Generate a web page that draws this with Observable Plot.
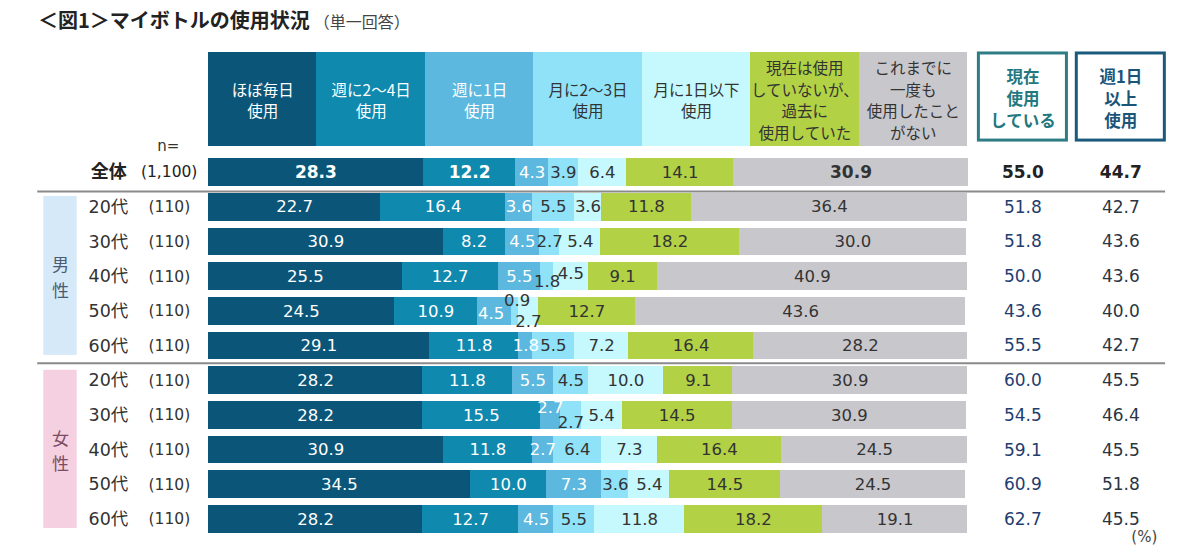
<!DOCTYPE html>
<html><head><meta charset="utf-8">
<script src="https://cdn.jsdelivr.net/npm/d3@7"></script>
<script src="https://cdn.jsdelivr.net/npm/@observablehq/plot@0.6"></script>
<style>
body{margin:0;background:#fff;font-family:"DejaVu Sans","Noto Sans CJK JP",sans-serif;}
#wrap{position:relative;width:1200px;height:558px;}
#title{position:absolute;left:38px;top:5px;z-index:2;color:#222;white-space:nowrap;}
#title .main{font-size:20px;font-weight:bold;font-family:"Noto Sans CJK JP",sans-serif;}
#title .sub{font-size:16px;font-family:"Noto Sans CJK JP",sans-serif;color:#444;margin-left:4px;}
</style></head>
<body><div id="wrap"><div id="title"><span class="main">＜図1＞マイボトルの使用状況</span><span class="sub">（単一回答）</span></div></div>
<script>
const categories = ["ほぼ毎日\n使用","週に2～4日\n使用","週に1日\n使用","月に2～3日\n使用","月に1日以下\n使用","現在は使用\nしていないが、\n過去に\n使用していた","これまでに\n一度も\n使用したこと\nがない"];
const colors = ["#0b5678","#0f89ae","#5cb8de","#8fe2f8","#c6f9fd","#b2d145","#c8c7cc"];
const rowLabels = ["全体","20代","30代","40代","50代","60代","20代","30代","40代","50代","60代"];
const sampleSizes = ["(1,100)","(110)","(110)","(110)","(110)","(110)","(110)","(110)","(110)","(110)","(110)"];
const genders = ["男\n性","女\n性"];
const almostDaily = [28.3,22.7,30.9,25.5,24.5,29.1,28.2,28.2,30.9,34.5,28.2];
const week2to4 = [12.2,16.4,8.2,12.7,10.9,11.8,11.8,15.5,11.8,10.0,12.7];
const week1 = [4.3,3.6,4.5,5.5,4.5,1.8,5.5,2.7,2.7,7.3,4.5];
const month2to3 = [3.9,5.5,2.7,1.8,0.9,5.5,4.5,2.7,6.4,3.6,5.5];
const month1 = [6.4,3.6,5.4,4.5,2.7,7.2,10.0,5.4,7.3,5.4,11.8];
const pastUse = [14.1,11.8,18.2,9.1,12.7,16.4,9.1,14.5,16.4,14.5,18.2];
const neverUsed = [30.9,36.4,30.0,40.9,43.6,28.2,30.9,30.9,24.5,24.5,19.1];
const currentUse = [55.0,51.8,51.8,50.0,43.6,55.5,60.0,54.5,59.1,60.9,62.7];
const weeklyPlus = [44.7,42.7,43.6,43.6,40.0,42.7,45.5,46.4,45.5,51.8,45.5];
const summaryHeads = ["現在\n使用\nしている","週1日\n以上\n使用"];

const series = [almostDaily, week2to4, week1, month2to3, month1, pastUse, neverUsed];
const segs = rowLabels.flatMap((r, i) => {
  let acc = 0;
  return series.map((s, j) => { const d = {i, j, v: s[i], x1: acc, x2: acc + s[i]}; acc += s[i]; return d; });
});
// small label nudges for crowded segments (row|cat -> row-units)
const nudge = {"3|3": 0.16, "3|4": -0.08, "4|2": 0.06, "4|3": -0.31, "4|4": 0.3, "7|2": -0.22, "7|3": 0.2};
const nx = {"4|2": -0.4, "4|3": 0.3};
const ny = d => d.i + (nudge[d.i + "|" + d.j] || 0);
const rows = rowLabels.map((r, i) => ({i, r, n: sampleSizes[i], cur: currentUse[i], wk: weeklyPlus[i]}));
const heads = categories.map((c, j) => ({j, c, x1: j * 100 / 7, x2: (j + 1) * 100 / 7}));
const sums = summaryHeads.map((t, k) => ({k, t, x: k === 0 ? 107.3 : 120.2}));
const gbox = genders.map((g, k) => ({k, g, y1: k === 0 ? 0.69 : 5.7, y2: k === 0 ? 5.27 : 10.26}));
const ff = '"DejaVu Sans","Noto Sans CJK JP",sans-serif';
const jf = '"Noto Sans CJK JP",sans-serif';
const isBold = d => d.i === 0 && [0, 1, 6].includes(d.j);

const chart = Plot.plot({
  width: 1200, height: 558, margin: 0,
  x: {domain: [0, 100], range: [208, 967], axis: null},
  y: {domain: [-172 / 34.7, (558 - 172) / 34.7], range: [0, 558], axis: null},
  color: {type: "identity"},
  style: {fontFamily: ff, background: "white"},
  marks: [
    // header
    Plot.rect(heads, {x1: "x1", x2: "x2", y1: -3.46, y2: -0.75, fill: d => colors[d.j], shapeRendering: "crispEdges"}),
    Plot.text(heads, {x: d => (d.x1 + d.x2) / 2, y: -2.1, text: "c", fill: d => d.j < 3 ? "white" : "#333", fontSize: 15.5, lineHeight: 1.38, fontFamily: jf}),
    Plot.rect(sums, {x1: d => d.x - 5.8, x2: d => d.x + 5.8, y1: -3.43, y2: -0.92, fill: "white", stroke: d => d.k === 0 ? "#2e7d84" : "#1b5a7c", strokeWidth: 3}),
    Plot.text(sums, {x: "x", y: -2.16, text: "t", fill: d => d.k === 0 ? "#237880" : "#1a5478", fontWeight: "bold", fontSize: 16.5, lineHeight: 1.34, fontFamily: jf}),
    Plot.text(["n="], {x: -5.3, y: -0.75, text: d => d, fill: "#333", fontSize: 15}),
    // gender boxes
    Plot.rect(gbox, {x1: -21.7, x2: -17.3, y1: "y1", y2: "y2", fill: d => d.k === 0 ? "#d6e9f8" : "#f5d0e1"}),
    Plot.text(gbox, {x: -19.5, y: d => (d.y1 + d.y2) / 2, text: "g", fill: d => d.k === 0 ? "#4b5b73" : "#7b4b62", fontSize: 17, lineHeight: 1.5, fontFamily: jf}),
    // separators
    Plot.ruleY([0.55, 5.5], {x1: -22.5, x2: 126.1, stroke: "#8a8a8a", strokeWidth: 2}),
    // left labels
    Plot.text(rows.filter(d => d.i === 0), {x: -15.5, y: "i", text: "r", textAnchor: "start", fontWeight: "bold", fontSize: 18, fill: "#222", fontFamily: jf}),
    Plot.text(rows.filter(d => d.i === 0), {x: -8.9, y: "i", text: "n", textAnchor: "start", fontSize: 15.5, fill: "#222"}),
    Plot.text(rows.filter(d => d.i > 0), {x: -15.8, y: "i", text: "r", textAnchor: "start", fontSize: 17.5, fill: "#333"}),
    Plot.text(rows.filter(d => d.i > 0), {x: -7.9, y: "i", text: "n", textAnchor: "start", fontSize: 15.5, fill: "#333"}),
    // bars
    Plot.rect(segs, {x1: "x1", x2: "x2", y1: d => d.i - 0.4, y2: d => d.i + 0.4, fill: d => colors[d.j], shapeRendering: "crispEdges"}),
    Plot.text(segs.filter(d => !isBold(d)), {x: d => (d.x1 + d.x2) / 2 + (nx[d.i + "|" + d.j] || 0), y: ny, text: d => d.v.toFixed(1), fill: d => d.j < 3 ? "white" : "#333", fontSize: 16.5}),
    Plot.text(segs.filter(isBold), {x: d => (d.x1 + d.x2) / 2, y: "i", text: d => d.v.toFixed(1), fill: d => d.j < 3 ? "white" : "#333", fontSize: 17, fontWeight: "bold"}),
    // summary columns
    Plot.text(rows.filter(d => d.i === 0), {x: 107.3, y: "i", text: d => d.cur.toFixed(1), fill: "#222", fontWeight: "bold", fontSize: 17}),
    Plot.text(rows.filter(d => d.i > 0), {x: 107.3, y: "i", text: d => d.cur.toFixed(1), fill: "#1f3d6e", fontSize: 17}),
    Plot.text(rows.filter(d => d.i === 0), {x: 120.2, y: "i", text: d => d.wk.toFixed(1), fill: "#222", fontWeight: "bold", fontSize: 17}),
    Plot.text(rows.filter(d => d.i > 0), {x: 120.2, y: "i", text: d => d.wk.toFixed(1), fill: "#2b3542", fontSize: 17}),
    Plot.text(["(%)"], {x: 123.3, y: 10.52, text: d => d, fill: "#444", fontSize: 15})
  ]
});
document.getElementById("wrap").appendChild(chart);
</script></body></html>
